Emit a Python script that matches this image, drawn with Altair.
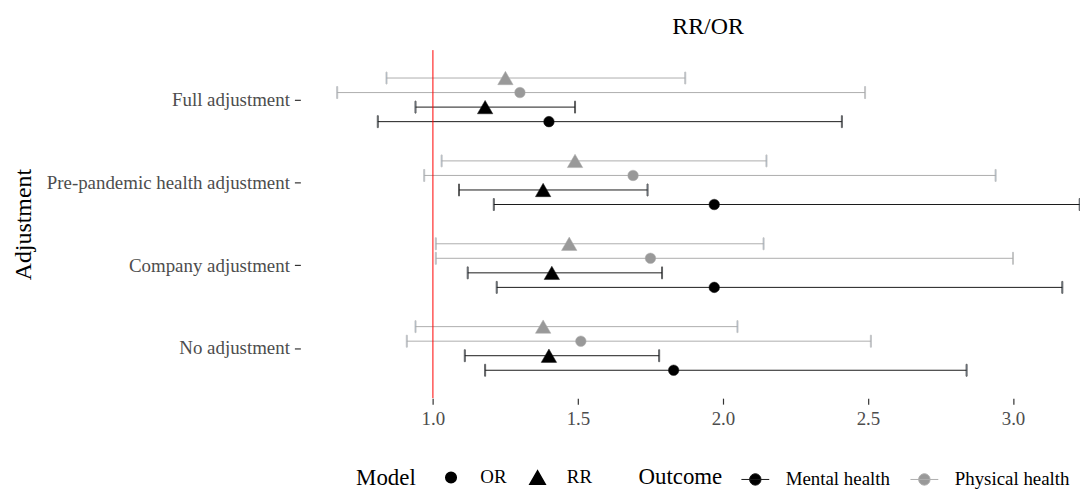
import altair as alt
import pandas as pd

# ---- data ----
adjustments = ["Full adjustment", "Pre-pandemic health adjustment",
               "Company adjustment", "No adjustment"]
outcomes = ["Physical health", "Physical health", "Mental health", "Mental health"]
models = ["RR", "OR", "RR", "OR"]

# per adjustment: [Physical RR, Physical OR, Mental RR, Mental OR]
est_full = [1.25, 1.30, 1.18, 1.40]
lo_full = [0.84, 0.67, 0.94, 0.81]
hi_full = [1.87, 2.49, 1.49, 2.41]

est_pre = [1.49, 1.69, 1.38, 1.97]
lo_pre = [1.03, 0.97, 1.09, 1.21]
hi_pre = [2.15, 2.94, 1.74, 3.23]

est_comp = [1.47, 1.75, 1.41, 1.97]
lo_comp = [1.01, 1.01, 1.12, 1.22]
hi_comp = [2.14, 3.00, 1.79, 3.17]

est_none = [1.38, 1.51, 1.40, 1.83]
lo_none = [0.94, 0.91, 1.11, 1.18]
hi_none = [2.05, 2.51, 1.78, 2.84]

x_ticks = [1.0, 1.5, 2.0, 2.5, 3.0]

estimates = [est_full, est_pre, est_comp, est_none]
lowers = [lo_full, lo_pre, lo_comp, lo_none]
uppers = [hi_full, hi_pre, hi_comp, hi_none]

records = []
for a, e, l, h in zip(adjustments, estimates, lowers, uppers):
    for o, m, ev, lv, hv in zip(outcomes, models, e, l, h):
        records.append({"Adjustment": a, "Outcome": o, "Model": m,
                        "row": o + " " + m, "est": ev, "lo": lv, "hi": hv})
df = pd.DataFrame(records)
row_order = [o + " " + m for o, m in zip(outcomes, models)]

FONT = "Liberation Serif"

xscale = alt.Scale(domain=[0.543, 3.231], nice=False, zero=False)
x_axis = alt.Axis(title=None, values=x_ticks, format=".1f", grid=False, domain=False,
                  tickColor="#333333", tickWidth=1.2, tickSize=6, labelPadding=5,
                  labelFontSize=19, labelColor="#4d4d4d", labelFont=FONT)
y_axis = alt.Axis(title="Adjustment", grid=False, domain=False, tickColor="#333333",
                  tickWidth=1.2, tickSize=6, labelPadding=5, labelFontSize=19,
                  labelColor="#4d4d4d", labelFont=FONT, labelLimit=400,
                  titleFontSize=24, titleFont=FONT, titleFontWeight="normal",
                  titleColor="black", titleX=-278, titleY=175, titleAngle=-90,
                  titleAlign="center", titleBaseline="middle")
yenc = alt.Y("Adjustment:N", sort=adjustments,
             scale=alt.Scale(domain=adjustments, paddingInner=0, paddingOuter=0.1),
             axis=y_axis)
yoff = alt.YOffset("row:N", sort=row_order,
                   scale=alt.Scale(domain=row_order, paddingInner=0, paddingOuter=0.85))

outcome_domain = ["Mental health", "Physical health"]
stroke_scale = alt.Scale(domain=outcome_domain, range=["#1a1a1a", "#adadad"])
fill_scale = alt.Scale(domain=outcome_domain, range=["black", "#999999"])

outcome_legend = alt.Legend(
    title="Outcome", orient="none", legendX=340, legendY=417, direction="horizontal",
    titleOrient="left", titleFontSize=23, titleFont=FONT, titleFontWeight="normal",
    titleColor="black", titlePadding=18, labelFontSize=19, labelFont=FONT,
    labelColor="black", labelOffset=16, columnPadding=18,
    symbolType="M-1,0L1,0M-0.41,0A0.41,0.41 0 1,0 0.41,0A0.41,0.41 0 1,0 -0.41,0Z",
    symbolSize=784, symbolStrokeWidth=1, symbolOpacity=1)
model_legend = alt.Legend(
    title="Model", orient="none", legendX=56, legendY=420, direction="horizontal",
    titleOrient="left", titleFontSize=23, titleFont=FONT, titleFontWeight="normal",
    titleColor="black", titlePadding=25, labelFontSize=19, labelFont=FONT,
    labelColor="black", labelOffset=20, columnPadding=19,
    symbolFillColor="black", symbolStrokeColor="black", symbolOpacity=1)

base = alt.Chart(df)

rules = base.mark_rule(strokeWidth=1).encode(
    x=alt.X("lo:Q", scale=xscale, axis=x_axis), x2="hi:Q", y=yenc, yOffset=yoff,
    stroke=alt.Stroke("Outcome:N", scale=stroke_scale, legend=outcome_legend))
caps_lo = base.mark_tick(thickness=1, size=12).encode(
    x=alt.X("lo:Q", scale=xscale), y=yenc, yOffset=yoff,
    stroke=alt.Stroke("Outcome:N", scale=stroke_scale, legend=outcome_legend))
caps_hi = base.mark_tick(thickness=1, size=12).encode(
    x=alt.X("hi:Q", scale=xscale), y=yenc, yOffset=yoff,
    stroke=alt.Stroke("Outcome:N", scale=stroke_scale, legend=outcome_legend))

points = base.mark_point(filled=True, opacity=1, strokeWidth=0.5).encode(
    x=alt.X("est:Q", scale=xscale), y=yenc, yOffset=yoff,
    fill=alt.Fill("Outcome:N", scale=fill_scale, legend=outcome_legend),
    stroke=alt.Stroke("Outcome:N", scale=stroke_scale, legend=outcome_legend),
    shape=alt.Shape("Model:N", scale=alt.Scale(domain=["OR", "RR"],
                                               range=["circle", "triangle-up"]),
                    legend=model_legend),
    size=alt.Size("Model:N", scale=alt.Scale(domain=["OR", "RR"], range=[113, 240]),
                  legend=model_legend))

ref_line = alt.Chart(pd.DataFrame({"ref": [1.0]})).mark_rule(
    color="red", strokeWidth=1).encode(x=alt.X("ref:Q", scale=xscale))

chart = alt.layer(rules, caps_lo, caps_hi, ref_line, points).properties(
    width=784, height=350,
    title=alt.TitleParams("RR/OR", font=FONT, fontSize=24, fontWeight="normal",
                          color="black", anchor="middle", dx=18, offset=11),
    autosize=alt.AutoSizeParams(type="none"),
    padding={"left": 294, "top": 41, "right": 0, "bottom": 92},
).configure(font=FONT, background="white"
).configure_view(stroke=None
).configure_legend(symbolBaseFillColor="black", symbolBaseStrokeColor="black")

chart.save("out.html", embed_options={"renderer": "svg", "actions": False})
